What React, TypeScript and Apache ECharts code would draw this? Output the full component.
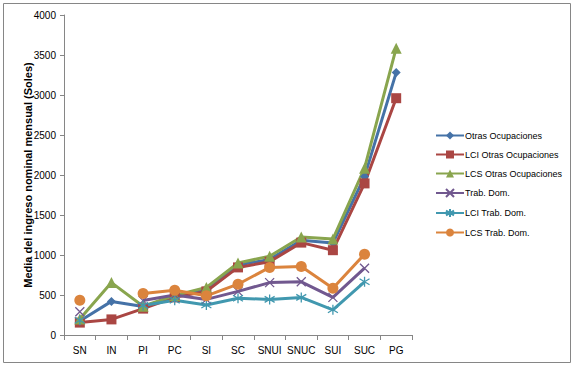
import React, { useEffect, useRef } from "react";
import * as echarts from "echarts";

const categories = ["SN", "IN", "PI", "PC", "SI", "SC", "SNUI", "SNUC", "SUI", "SUC", "PG"];
const otrasOcupaciones = [175, 420, 355, 480, 570, 875, 945, 1185, 1150, 1980, 3280];
const lciOtras = [155, 195, 330, 470, 545, 845, 915, 1155, 1060, 1895, 2960];
const lcsOtras = [200, 655, 360, 495, 595, 900, 985, 1225, 1200, 2085, 3585];
const trabDom = [290, null, 430, 500, 445, 545, 655, 665, 470, 835, null];
const lciTrabDom = [185, null, 370, 435, 375, 460, 445, 470, 315, 665, null];
const lcsTrabDom = [435, null, 520, 560, 490, 635, 845, 855, 585, 1010, null];
const yTicks = { min: 0, max: 4000, interval: 500 };

const FONT = "'Liberation Sans', Arial, sans-serif";
const X_PATH = "path://M0,0 L10,10 M10,0 L0,10";
const AST_PATH = "path://M5,0 L5,10 M0,2 L10,8 M0,8 L10,2";

export default function App() {
  const ref = useRef<HTMLDivElement>(null);
  useEffect(() => {
    if (!ref.current) return;
    const chart = echarts.init(ref.current, null, { renderer: "svg" });
    const mk = (name: string, data: (number | null)[], color: string, symbol: string, size: number, stroke = false) => ({
      name,
      type: "line",
      data,
      symbol,
      symbolSize: size,
      connectNulls: false,
      lineStyle: { color, width: 3 },
      itemStyle: stroke
        ? { color, borderColor: color, borderWidth: 1.3 }
        : { color, borderColor: color, borderWidth: 0 },
    });
    chart.setOption({
      animation: false,
      backgroundColor: "#fff",
      graphic: [
        {
          type: "rect",
          shape: { x: 3.5, y: 3.5, width: 567, height: 359 },
          style: { fill: "none", stroke: "#868686", lineWidth: 1 },
          silent: true,
        },
      ],
      grid: { left: 64, right: 170, top: 15, bottom: 35, containLabel: false },
      legend: {
        orient: "vertical",
        left: 430,
        top: 126,
        itemGap: 10,
        itemWidth: 28,
        itemHeight: 10,
        textStyle: { fontFamily: FONT, fontSize: 9, color: "#000", padding: [0, 0, 0, -4] },
        data: [
          "Otras Ocupaciones",
          "LCI Otras Ocupaciones",
          "LCS Otras Ocupaciones",
          "Trab. Dom.",
          "LCI Trab. Dom.",
          "LCS Trab. Dom.",
        ],
      },
      xAxis: {
        type: "category",
        data: categories,
        boundaryGap: true,
        axisLine: { lineStyle: { color: "#868686" } },
        axisTick: { show: true, interval: 0, alignWithLabel: false, length: 5, lineStyle: { color: "#868686" } },
        axisLabel: { fontFamily: FONT, fontSize: 10, color: "#000", margin: 10, interval: 0 },
      },
      yAxis: {
        type: "value",
        min: yTicks.min,
        max: yTicks.max,
        interval: yTicks.interval,
        name: "Media del ingreso nominal mensual (Soles)",
        nameLocation: "middle",
        nameGap: 31,
        nameMoveOverlap: false,
        nameTextStyle: { fontFamily: FONT, fontSize: 11, fontWeight: "bold", color: "#000" },
        axisLine: { show: true, lineStyle: { color: "#868686" } },
        axisTick: { show: true, length: 4, lineStyle: { color: "#868686" } },
        splitLine: { show: false },
        axisLabel: { fontFamily: FONT, fontSize: 10, color: "#000", margin: 8, formatter: (v: number) => String(v) },
      },
      series: [
        mk("Otras Ocupaciones", otrasOcupaciones, "#4572A7", "diamond", 9),
        mk("LCI Otras Ocupaciones", lciOtras, "#AA4643", "rect", 10),
        mk("LCS Otras Ocupaciones", lcsOtras, "#89A54E", "triangle", 11),
        mk("Trab. Dom.", trabDom, "#71588F", X_PATH, 9, true),
        mk("LCI Trab. Dom.", lciTrabDom, "#4198AF", AST_PATH, 10, true),
        mk("LCS Trab. Dom.", lcsTrabDom, "#DB843D", "circle", 11),
      ],
    });
    return () => chart.dispose();
  }, []);
  return <div ref={ref} style={{ position: "absolute", left: 0, top: 0, width: 582, height: 370 }} />;
}
